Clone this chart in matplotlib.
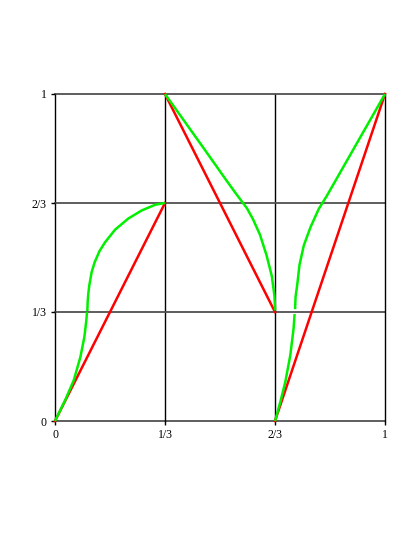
import numpy as np
import matplotlib
matplotlib.use("Agg")
import matplotlib.pyplot as plt

# tick positions and labels
ticks = [0, 1/3, 2/3, 1]
tick_labels = ["0", "1/3", "2/3", "1"]

# red piecewise-linear map
red_x = [[0, 1/3], [1/3, 2/3], [2/3, 1]]
red_y = [[0, 2/3], [1, 1/3], [0, 1]]

# green curve (three branches, first and third split at y=1/3)
g1a_x = [0, 0.031, 0.057, 0.077, 0.089, 0.095, 0.097]
g1a_y = [0, 0.064, 0.125, 0.196, 0.257, 0.308, 0.333]
g1b_x = [0.098, 0.099, 0.101, 0.104, 0.111, 0.12, 0.135, 0.152, 0.182, 0.222, 0.263, 0.303, 0.333]
g1b_y = [0.336, 0.365, 0.39, 0.415, 0.455, 0.485, 0.52, 0.547, 0.585, 0.619, 0.644, 0.661, 0.667]

g2_x = [1/3, 0.45, 0.52, 0.545, 0.565, 0.582, 0.6, 0.621, 0.641, 0.657, 0.665, 0.667]
g2_y = [1.0, 0.835, 0.735, 0.70, 0.673, 0.65, 0.617, 0.57, 0.507, 0.443, 0.383, 0.338]

g3a_x = [0.667, 0.683, 0.698, 0.713, 0.723, 0.726]
g3a_y = [0, 0.059, 0.120, 0.201, 0.283, 0.327]
g3b_x = [0.7275, 0.729, 0.734, 0.741, 0.754, 0.774, 0.799, 0.824, 1.0]
g3b_y = [0.342, 0.38, 0.416, 0.478, 0.537, 0.592, 0.648, 0.689, 1.0]

plt.rcParams['font.family'] = ['Liberation Serif', 'DejaVu Serif']

fig = plt.figure(figsize=(4.19, 5.43), dpi=100)
ax = fig.add_axes([55/419, 122/543, 330/419, 327/543])
ax.set_xlim(0, 1)
ax.set_ylim(0, 1)

for s in ax.spines.values():
    s.set_visible(False)

# grid: vertical black, horizontal dark grey
for t in ticks:
    ax.axvline(t, color='black', lw=1.0, zorder=1, clip_on=False)
    ax.axhline(t, color='#505050', lw=1.3, zorder=1, clip_on=False)

for xs, ys in zip(red_x, red_y):
    ax.plot(xs, ys, color='#ff0000', lw=1.8, zorder=3, clip_on=False)

for xs, ys in [(g1a_x, g1a_y), (g1b_x, g1b_y), (g2_x, g2_y), (g3a_x, g3a_y), (g3b_x, g3b_y)]:
    ax.plot(xs, ys, color='#00f000', lw=1.8, zorder=4, clip_on=False,
            solid_capstyle='butt')

ax.set_xticks(ticks)
ax.set_xticklabels(tick_labels)
ax.set_yticks(ticks)
ax.set_yticklabels(tick_labels)
ax.tick_params(direction='out', length=3, width=1, color='black',
               labelsize=8.5, pad=3)

fig.savefig("out.png", dpi=100)
